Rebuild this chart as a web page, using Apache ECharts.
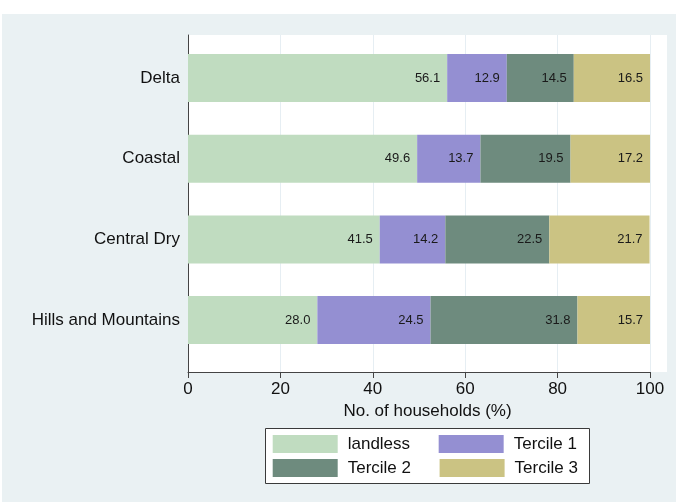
<!DOCTYPE html>
<html>
<head>
<meta charset="utf-8">
<script src="https://cdn.jsdelivr.net/npm/echarts@6/dist/echarts.min.js"></script>
<style>
html,body{margin:0;padding:0;background:#ffffff;}
#chart{width:676px;height:502px;}
</style>
</head>
<body>
<div id="chart"></div>
<script>
const categories = ['Delta', 'Coastal', 'Central Dry', 'Hills and Mountains'];
const landless = [56.1, 49.6, 41.5, 28.0];
const tercile1 = [12.9, 13.7, 14.2, 24.5];
const tercile2 = [14.5, 19.5, 22.5, 31.8];
const tercile3 = [16.5, 17.2, 21.7, 15.7];
const xTicks = [0, 20, 40, 60, 80, 100];
const seriesNames = ['landless', 'Tercile 1', 'Tercile 2', 'Tercile 3'];
const seriesColors = ['#c0dcc0', '#948fd2', '#6e8b7e', '#cbc383'];

const chart = echarts.init(document.getElementById('chart'), null, {renderer: 'canvas'});
const FONT = 'Liberation Sans, Arial, sans-serif';

const PLOT_L = 188, PLOT_R100 = 650;
const allData = [landless, tercile1, tercile2, tercile3];

const series = seriesNames.map((name, i) => ({
  name: name,
  type: 'bar',
  stack: 'total',
  xAxisIndex: 1,
  yAxisIndex: 1,
  barCategoryGap: '40.5%',
  data: allData[i],
  itemStyle: {color: seriesColors[i]},
  label: {
    show: true,
    position: 'insideRight',
    distance: 7,
    fontFamily: FONT,
    fontSize: 13,
    color: '#1a1a1a',
    formatter: p => p.value.toFixed(1)
  },
  emphasis: {disabled: true}
}));

const option = {
  animation: false,
  textStyle: {fontFamily: FONT},
  graphic: [
    {type: 'rect', silent: true, z: -100, shape: {x: 2, y: 14, width: 674, height: 488}, style: {fill: '#eaf1f3'}},
    {type: 'rect', silent: true, z: -99, shape: {x: 188, y: 35, width: 479, height: 337}, style: {fill: '#ffffff'}},
    {type: 'rect', silent: true, z: -98, shape: {x: 265.5, y: 428.5, width: 324, height: 55}, style: {fill: '#ffffff', stroke: '#3a3a3a', lineWidth: 1}}
  ],
  grid: [
    {left: PLOT_L, top: 35, width: PLOT_R100 - PLOT_L, height: 337, containLabel: false},
    {left: PLOT_L, top: 37.7, width: PLOT_R100 - PLOT_L, height: 322.7, containLabel: false}
  ],
  xAxis: [
    {
      gridIndex: 0, type: 'value', min: xTicks[0], max: xTicks[xTicks.length - 1], interval: 20,
      axisLine: {show: true, lineStyle: {color: '#444', width: 1}},
      axisTick: {show: true, length: 6, lineStyle: {color: '#444'}},
      axisLabel: {show: true, margin: 9, fontSize: 17, color: '#111', fontFamily: FONT},
      splitLine: {show: true, lineStyle: {color: '#e6eef3', width: 1}},
      name: 'No. of households (%)',
      nameLocation: 'middle',
      nameGap: 26,
      nameTextStyle: {fontSize: 17, color: '#111', fontFamily: FONT, padding: [0, 0, 0, 17]}
    },
    {
      gridIndex: 1, type: 'value', min: 0, max: 100,
      show: false
    }
  ],
  yAxis: [
    {
      gridIndex: 0, type: 'value', min: 0, max: 1,
      axisLine: {show: true, onZero: false, lineStyle: {color: '#444', width: 1}},
      axisTick: {show: false}, axisLabel: {show: false}, splitLine: {show: false}
    },
    {
      gridIndex: 1, type: 'category', data: categories, inverse: true,
      axisLine: {show: false}, axisTick: {show: false}, splitLine: {show: false},
      axisLabel: {show: true, margin: 8, fontSize: 17, color: '#111', fontFamily: FONT}
    }
  ],
  legend: [
    {
      data: ['landless', 'Tercile 1'],
      left: 272.7, top: 435, orient: 'horizontal', padding: 0,
      itemWidth: 65, itemHeight: 18, itemGap: 28.6, icon: 'rect',
      selectedMode: false,
      textStyle: {fontSize: 17, color: '#111', fontFamily: FONT, width: 82, padding: [0, 0, 0, 5]}
    },
    {
      data: ['Tercile 2', 'Tercile 3'],
      left: 272.7, top: 459, orient: 'horizontal', padding: 0,
      itemWidth: 65, itemHeight: 18, itemGap: 28.6, icon: 'rect',
      selectedMode: false,
      textStyle: {fontSize: 17, color: '#111', fontFamily: FONT, width: 82, padding: [0, 0, 0, 5]}
    }
  ],
  series: series
};
chart.setOption(option);
</script>
</body>
</html>
